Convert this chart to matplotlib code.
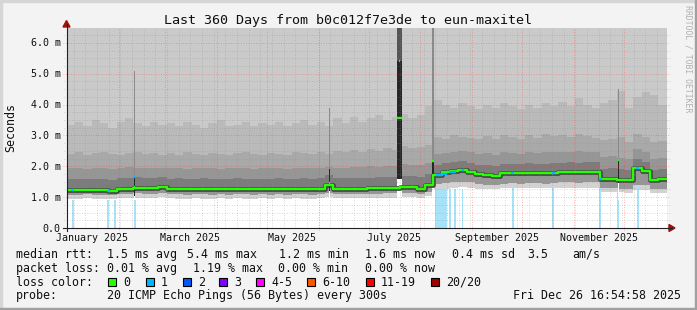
#!/usr/bin/env python
# smokeping style latency graph, last 360 days

from datetime import datetime
import numpy as np
import pandas as pd
import matplotlib
matplotlib.use('Agg')
import matplotlib.pyplot as plt
import matplotlib.dates as mdates
from matplotlib.patches import Rectangle, Polygon
from matplotlib.lines import Line2D

plt.rcParams['font.family'] = ['DejaVu Sans Mono']

start = datetime(2024, 12, 31, 16, 54, 58)
end = datetime(2025, 12, 26, 16, 54, 58)
step_days = 5

# median rtt per 5 day column (ms)
median = [1.23, 1.23, 1.24, 1.23, 1.23, 1.21, 1.28, 1.28, 1.31, 1.31, 1.31, 1.34,
          1.27, 1.27, 1.26, 1.27, 1.27, 1.26, 1.27, 1.26, 1.27, 1.27, 1.26, 1.27,
          1.26, 1.27, 1.26, 1.27, 1.27, 1.26, 1.27, 1.40, 1.28, 1.28, 1.28, 1.28,
          1.29, 1.29, 1.30, 1.30, 1.33, 1.32, 1.28, 1.39, 1.72, 1.80, 1.84, 1.89,
          1.83, 1.74, 1.72, 1.70, 1.77, 1.78, 1.77, 1.78, 1.78, 1.77, 1.78, 1.83,
          1.83, 1.82, 1.83, 1.83, 1.60, 1.60, 1.55, 1.55, 1.96, 1.84, 1.55, 1.58]

# smoke band edges (ms)
hi1 = [3.35, 3.45, 3.30, 3.50, 3.40, 3.25, 3.45, 3.55, 3.40, 3.30, 3.45, 3.35,
       3.40, 3.30, 3.45, 3.35, 3.25, 3.40, 3.50, 3.30, 3.35, 3.45, 3.30, 3.40,
       3.35, 3.45, 3.30, 3.40, 3.50, 3.35, 3.45, 3.30, 3.55, 3.40, 3.60, 3.45,
       3.55, 3.65, 3.50, 3.60, 3.70, 3.55, 3.65, 3.95, 4.15, 4.00, 3.90, 4.05,
       3.95, 3.85, 4.00, 3.90, 4.05, 3.95, 3.85, 4.00, 3.90, 4.05, 3.95, 4.10,
       3.95, 4.20, 4.00, 3.90, 4.05, 4.15, 4.45, 3.90, 4.25, 4.40, 4.30, 4.00]
hi2 = [2.40, 2.45, 2.38, 2.42, 2.47, 2.40, 2.36, 2.44, 2.48, 2.40, 2.43, 2.38,
       2.42, 2.37, 2.45, 2.40, 2.38, 2.44, 2.41, 2.36, 2.43, 2.47, 2.40, 2.38,
       2.44, 2.40, 2.37, 2.45, 2.42, 2.39, 2.46, 2.41, 2.50, 2.45, 2.52, 2.48,
       2.55, 2.50, 2.58, 2.52, 2.65, 2.60, 2.62, 2.70, 2.95, 2.90, 3.00, 2.95,
       2.92, 2.88, 2.98, 2.90, 3.02, 2.95, 2.90, 3.00, 2.93, 3.05, 2.97, 3.00,
       2.95, 3.05, 2.98, 2.92, 2.85, 2.90, 2.95, 2.80, 3.05, 2.95, 2.78, 2.82]
hi3 = [1.94, 1.96, 1.92, 1.95, 1.93, 1.90, 1.95, 1.97, 1.96, 1.94, 1.95, 1.93,
       1.93, 1.95, 1.92, 1.94, 1.93, 1.95, 1.92, 1.94, 1.95, 1.93, 1.92, 1.94,
       1.93, 1.95, 1.92, 1.94, 1.96, 1.93, 1.95, 1.98, 1.95, 1.96, 1.98, 1.97,
       2.00, 1.98, 2.02, 2.00, 2.08, 2.05, 2.04, 2.10, 2.40, 2.42, 2.48, 2.50,
       2.46, 2.40, 2.42, 2.38, 2.45, 2.44, 2.40, 2.46, 2.43, 2.47, 2.45, 2.48,
       2.46, 2.50, 2.47, 2.45, 2.30, 2.32, 2.28, 2.25, 2.55, 2.48, 2.25, 2.28]
hi4 = [1.58, 1.60, 1.59, 1.60, 1.58, 1.56, 1.62, 1.63, 1.64, 1.62, 1.63, 1.65,
       1.60, 1.61, 1.59, 1.60, 1.61, 1.60, 1.59, 1.60, 1.61, 1.60, 1.59, 1.60,
       1.60, 1.61, 1.59, 1.60, 1.61, 1.60, 1.61, 1.72, 1.62, 1.61, 1.62, 1.63,
       1.63, 1.64, 1.65, 1.66, 1.70, 1.68, 1.64, 1.74, 2.05, 2.10, 2.14, 2.18,
       2.12, 2.05, 2.03, 2.02, 2.08, 2.09, 2.08, 2.10, 2.09, 2.08, 2.10, 2.12,
       2.13, 2.12, 2.14, 2.13, 1.92, 1.93, 1.90, 1.88, 2.25, 2.15, 1.88, 1.90]
lo2 = [1.08, 1.08, 1.09, 1.08, 1.08, 1.07, 1.10, 1.10, 1.12, 1.11, 1.11, 1.13,
       1.09, 1.09, 1.08, 1.09, 1.09, 1.08, 1.09, 1.08, 1.09, 1.09, 1.08, 1.09,
       1.08, 1.09, 1.08, 1.09, 1.09, 1.08, 1.09, 1.15, 1.10, 1.10, 1.10, 1.10,
       1.11, 1.11, 1.12, 1.12, 1.14, 1.13, 1.10, 1.18, 1.42, 1.46, 1.48, 1.50,
       1.48, 1.42, 1.40, 1.38, 1.44, 1.45, 1.44, 1.45, 1.45, 1.44, 1.45, 1.48,
       1.48, 1.47, 1.48, 1.48, 1.30, 1.30, 1.27, 1.27, 1.40, 1.38, 1.26, 1.28]
lo = [0.95, 0.94, 0.96, 0.95, 0.94, 0.93, 0.97, 0.97, 0.98, 0.97, 0.97, 0.99,
      0.96, 0.95, 0.95, 0.96, 0.95, 0.95, 0.96, 0.95, 0.96, 0.95, 0.95, 0.96,
      0.95, 0.96, 0.95, 0.96, 0.95, 0.95, 0.96, 1.00, 0.97, 0.96, 0.97, 0.97,
      0.98, 0.97, 0.98, 0.98, 1.00, 0.99, 0.97, 1.03, 1.26, 1.28, 1.30, 1.32,
      1.30, 1.28, 1.27, 1.26, 1.29, 1.30, 1.29, 1.30, 1.30, 1.29, 1.30, 1.31,
      1.31, 1.30, 1.31, 1.31, 1.18, 1.18, 1.16, 1.15, 1.24, 1.23, 1.12, 1.14]

# short outliers: (start day, end day), smoke bottom, dark top, light top, median
spike_days = [(40.3, 41.0), (157.4, 158.2), (198.0, 201.3), (219.5, 220.4), (330.8, 331.8)]
spike_low = [1.05, 1.20, 1.60, 1.45, 1.45]
spike_core = [1.70, 1.90, 5.40, 2.20, 2.25]
spike_top = [5.10, 3.90, 6.50, 6.50, 4.50]
spike_med = [1.34, 1.45, 3.55, 2.16, 2.19]
spike_peak = [(199.3, 200.2, 5.40), (219.3, 220.0, 1.68)]

# median segments with 1/20 loss (day from, day to, ms)
loss1 = [(2.7, 4.5, 1.23), (24.3, 26.1, 1.21), (40.2, 41.1, 1.65), (221.7, 225.0, 1.72),
         (225.0, 228.3, 1.76), (229.5, 233.4, 1.82), (236.7, 238.5, 1.89), (266.7, 268.5, 1.78),
         (291.3, 293.1, 1.78), (319.5, 321.3, 1.60), (341.7, 343.5, 1.93)]

# packet loss bars (day from, day to, height ms)
loss_bars = [(3.3, 4.2, 0.92), (24.3, 25.5, 0.92), (28.5, 29.4, 0.92), (40.5, 41.4, 0.92),
             (221.1, 228.3, 1.28), (229.5, 230.4, 1.28), (232.5, 233.4, 1.28), (237.0, 237.9, 1.28),
             (267.6, 268.2, 1.31), (291.3, 292.2, 1.30), (319.8, 320.7, 1.29), (330.3, 331.2, 1.30),
             (342.3, 343.2, 1.40)]

ytick_vals = [0, 1, 2, 3, 4, 5, 6]
ytick_labels = ['0.0', '1.0 m', '2.0 m', '3.0 m', '4.0 m', '5.0 m', '6.0 m']
xlabel_months = ['January 2025', 'March 2025', 'May 2025', 'July 2025',
                 'September 2025', 'November 2025']
xlabel_dates = [datetime(2025, 1, 16), datetime(2025, 3, 16), datetime(2025, 5, 16),
                datetime(2025, 7, 16), datetime(2025, 9, 16), datetime(2025, 11, 16)]

loss_names = ['0', '1', '2', '3', '4-5', '6-10', '11-19', '20/20']
loss_colors = ['#26ff00', '#00b8ff', '#0059ff', '#7e00ff', '#ff00ff', '#ff5500', '#ff0000', '#a10000']
loss_box_x = [108, 146, 183, 219, 256, 307, 366, 431]

W, H = 697, 310


def fx(x):
    return x / W


def fy(y):
    return 1 - y / H


fig = plt.figure(figsize=(W / 100, H / 100), dpi=100)
fig.patch.set_facecolor('#f3f3f3')

# 3d-ish frame
fig.add_artist(Rectangle((0, fy(2)), 1, 2 / H, transform=fig.transFigure, color='#d6d6d6'))
fig.add_artist(Rectangle((0, 0), 2 / W, 1, transform=fig.transFigure, color='#d6d6d6'))
fig.add_artist(Rectangle((0, 0), 1, 2 / H, transform=fig.transFigure, color='#a0a0a0'))
fig.add_artist(Rectangle((fx(695), 0), 2 / W, 1, transform=fig.transFigure, color='#a0a0a0'))

ax = fig.add_axes([fx(66.5), fy(228), 600 / W, 200.5 / H])
ax.set_facecolor('white')
t0 = mdates.date2num(start)
ax.set_xlim(t0, mdates.date2num(end))
ax.set_ylim(0, 6.5)
for s in ax.spines.values():
    s.set_visible(False)
ax.set_xticks([])
ax.set_yticks([])

n = len(median)
xs = t0 + np.arange(n + 1) * step_days


def ext(a):
    return np.append(a, a[-1])


top = np.full(n + 1, 6.5)
ax.fill_between(xs, ext(hi1), top, step='post', color='#cacaca', lw=0, zorder=1)
ax.fill_between(xs, ext(hi2), ext(hi1), step='post', color='#bababa', lw=0, zorder=1)
ax.fill_between(xs, ext(hi3), ext(hi2), step='post', color='#a9a9a9', lw=0, zorder=1)
ax.fill_between(xs, ext(hi4), ext(hi3), step='post', color='#969696', lw=0, zorder=1)
ax.fill_between(xs, ext(median), ext(hi4), step='post', color='#7c7c7c', lw=0, zorder=1)
ax.fill_between(xs, ext(lo2), ext(median), step='post', color='#969696', lw=0, zorder=1)
ax.fill_between(xs, ext(lo), ext(lo2), step='post', color='#d2d2d2', lw=0, zorder=1)

for a, b, h in loss_bars:
    ax.fill_between([t0 + a, t0 + b], [0, 0], [h, h], color='#a6e2f8', lw=0, zorder=1.1)

# dark core round the median
ax.step(xs, ext(median), where='post', color='#444444', lw=3.4, zorder=1.5)

for (a, b), l, c, tp in zip(spike_days, spike_low, spike_core, spike_top):
    xx = [t0 + a, t0 + b]
    ax.fill_between(xx, [0.9, 0.9], [l, l], color='white', lw=0, zorder=1.2)
    ax.fill_between(xx, [c, c], [tp, tp], color='#8a8a8a' if tp < 6.5 or b - a < 2 else '#555555',
                    lw=0, zorder=1.6)
    ax.fill_between(xx, [l, l], [c, c], color='#262626', lw=0, zorder=1.6)

# grid on top of the smoke
for v in np.arange(0.25, 6.5, 0.25):
    if abs(v - round(v)) > 1e-6:
        ax.axhline(v, xmin=-0.004, xmax=1.006, color='#8c8c8c', alpha=0.45, lw=0.6,
                   ls=(0, (1, 2)), zorder=2, clip_on=False)
for v in range(1, 7):
    ax.axhline(v, xmin=-0.006, xmax=1.006, color='#ff4040', alpha=0.5, lw=0.6,
               ls=(0, (1, 2)), zorder=2.1, clip_on=False)
for d in pd.date_range('2025-01-01', '2025-12-26', freq='W-SUN'):
    ax.axvline(mdates.date2num(d), color='#8c8c8c', alpha=0.45, lw=0.6,
               ls=(0, (1, 2)), zorder=2)
for d in pd.date_range('2025-01-01', '2025-12-26', freq='MS'):
    ax.axvline(mdates.date2num(d), ymin=-0.012, color='#ff4040', alpha=0.5, lw=0.6,
               ls=(0, (1, 2)), zorder=2.1, clip_on=False)

ax.step(xs, ext(median), where='post', color='#26ff00', lw=1.7, zorder=3)
for (a, b), m in zip(spike_days, spike_med):
    ax.plot([t0 + a, t0 + b], [m, m], color='#26ff00', lw=1.7, zorder=3.1, solid_capstyle='butt')
for a, b, m in spike_peak:
    ax.plot([t0 + a, t0 + b], [m, m], color='#26ff00', lw=1.7, zorder=3.1, solid_capstyle='butt')
for a, b, m in loss1:
    ax.plot([t0 + a, t0 + b], [m, m], color='#00b8ff', lw=1.7, zorder=3.2, solid_capstyle='butt')

# axes with arrows
fig.add_artist(Line2D([fx(63), fx(672)], [fy(228), fy(228)], color='#202020', lw=0.8))
fig.add_artist(Line2D([fx(66.5), fx(66.5)], [fy(231), fy(24)], color='#202020', lw=0.8))
fig.add_artist(Polygon([[fx(669), fy(224.5)], [fx(669), fy(231.5)], [fx(675), fy(228)]],
                       closed=True, transform=fig.transFigure, color='#a01010'))
fig.add_artist(Polygon([[fx(63), fy(27)], [fx(70), fy(27)], [fx(66.5), fy(20.5)]],
                       closed=True, transform=fig.transFigure, color='#a01010'))

for v, lab in zip(ytick_vals, ytick_labels):
    fig.text(fx(60.5), fy(228 - v * 30.85 - 0.5), lab, fontsize=7.2, ha='right',
             va='center_baseline', color='#101010')
for d, lab in zip(xlabel_dates, xlabel_months):
    fig.text(fx(66.5 + (mdates.date2num(d) - t0) * 600 / 360), fy(240.7), lab,
             fontsize=7.2, ha='center', va='baseline', color='#101010')

fig.text(fx(348.5), fy(24), 'Last 360 Days from b0c012f7e3de to eun-maxitel',
         fontsize=9.6, ha='center', va='baseline', color='#101010')
fig.text(fx(10.5), fy(128), 'Seconds', fontsize=8.4, rotation=90, ha='center', va='center',
         color='#101010')
fig.text(fx(688), fy(59), 'RRDTOOL / TOBI OETIKER', fontsize=5.9, rotation=-90,
         ha='center', va='center', color='#b0b0b0')

leg = dict(fontsize=8.4, va='baseline', ha='left', color='#101010')
row1 = [(16, 'median rtt:'), (107, '1.5 ms avg'), (187, '5.4 ms max'), (279, '1.2 ms min'),
        (365, '1.6 ms now'), (452, '0.4 ms sd'), (527, '3.5'), (572, 'am/s')]
row2 = [(16, 'packet loss:'), (107, '0.01 % avg'), (193, '1.19 % max'), (278, '0.00 % min'),
        (365, '0.00 % now')]
for x, s in row1:
    fig.text(fx(x), fy(257.7), s, **leg)
for x, s in row2:
    fig.text(fx(x), fy(271.7), s, **leg)
fig.text(fx(16), fy(285.7), 'loss color:', **leg)
for x, name, c in zip(loss_box_x, loss_names, loss_colors):
    fig.add_artist(Rectangle((fx(x), fy(286)), 7.5 / W, 8 / H, transform=fig.transFigure,
                             facecolor=c, edgecolor='black', lw=0.8))
    fig.text(fx(x + 15), fy(285.7), name, **leg)
fig.text(fx(16), fy(299.3), 'probe:', **leg)
fig.text(fx(107), fy(299.3), '20 ICMP Echo Pings (56 Bytes) every 300s', **leg)
fig.text(fx(513), fy(299.3), 'Fri Dec 26 16:54:58 2025', **leg)

fig.savefig('out.png', dpi=100, facecolor=fig.get_facecolor())
